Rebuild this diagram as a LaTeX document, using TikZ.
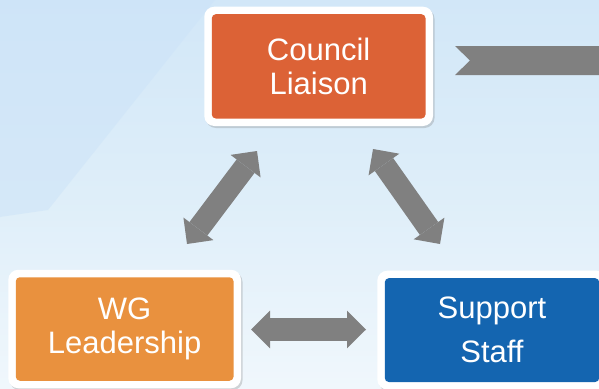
\documentclass[tikz,border=0pt]{standalone}
\usepackage{fontspec}
\setmainfont{Liberation Sans}
\usetikzlibrary{arrows.meta,shadows}
\definecolor{bgtop}{RGB}{210,231,248}
\definecolor{bgmid}{RGB}{222,238,249}
\definecolor{bgbot}{RGB}{240,247,252}
\definecolor{bgdark}{RGB}{204,227,248}
\definecolor{clorange}{RGB}{220,98,54}
\definecolor{wgorange}{RGB}{233,145,62}
\definecolor{ssblue}{RGB}{20,101,176}
\definecolor{arrowgray}{RGB}{128,128,128}
\tikzset{
  boxnode/.style={fill=white, rounded corners=10pt,
    drop shadow={shadow xshift=1.5pt, shadow yshift=-2pt, opacity=0.3},
    text=white, align=center, inner sep=0pt},
  fillinner/.style={path picture={\fill[#1, rounded corners=4pt]
      ([shift={(7.5pt,-7.5pt)}]path picture bounding box.north west) rectangle
      ([shift={(-7.5pt,7.5pt)}]path picture bounding box.south east);}},
  bigarrow/.style={draw=arrowgray, line width=22.4pt,
    {Triangle[length=19pt,width=37.6pt,line width=0pt]}-{Triangle[length=19pt,width=37.6pt,line width=0pt]}}
}
\begin{document}
\begin{tikzpicture}[x=1pt,y=-1pt]
  \clip (0,0) rectangle (599,388);
  % background
  \shade[top color=bgtop, bottom color=bgbot, middle color=bgmid] (0,0) rectangle (599,388);
  \fill[bgdark, opacity=0.5] (0,0) -- (215,0) -- (165,63) -- (48,210) -- (0,217) -- cycle;
  % boxes
  \node[boxnode, fillinner=clorange, minimum width=228.7pt, minimum height=119.3pt,
        font=\fontsize{31}{34.5}\selectfont] (council) at (318.65,66.35) {Council\\Liaison};
  \node[boxnode, fillinner=wgorange, minimum width=232.7pt, minimum height=118.5pt,
        font=\fontsize{31}{34.5}\selectfont] (wg) at (124.65,329) {WG\\Leadership};
  \node[boxnode, fillinner=ssblue, minimum width=229.4pt, minimum height=118.8pt,
        font=\fontsize{31}{44}\selectfont] (ss) at (492,330.1) {Support\\Staff};
  % connector end points
  \coordinate (h1) at (251,329.5);
  \coordinate (h2) at (366,329.5);
  \coordinate (l1) at (187,244);
  \coordinate (l2) at (257,151);
  \coordinate (r1) at (373,149);
  \coordinate (r2) at (440,244);
  \draw[bigarrow] (l1) -- (l2);
  \draw[bigarrow] (r1) -- (r2);
  \draw[bigarrow] (h1) -- (h2);
  % outgoing chevron on the right
  \coordinate (c1) at (455,46);
  \coordinate (c2) at (610,46);
  \coordinate (c3) at (610,75);
  \coordinate (c4) at (455,75);
  \coordinate (c5) at (470,60.5);
  \fill[arrowgray] (c1) -- (c2) -- (c3) -- (c4) -- (c5) -- cycle;
\end{tikzpicture}
\end{document}
